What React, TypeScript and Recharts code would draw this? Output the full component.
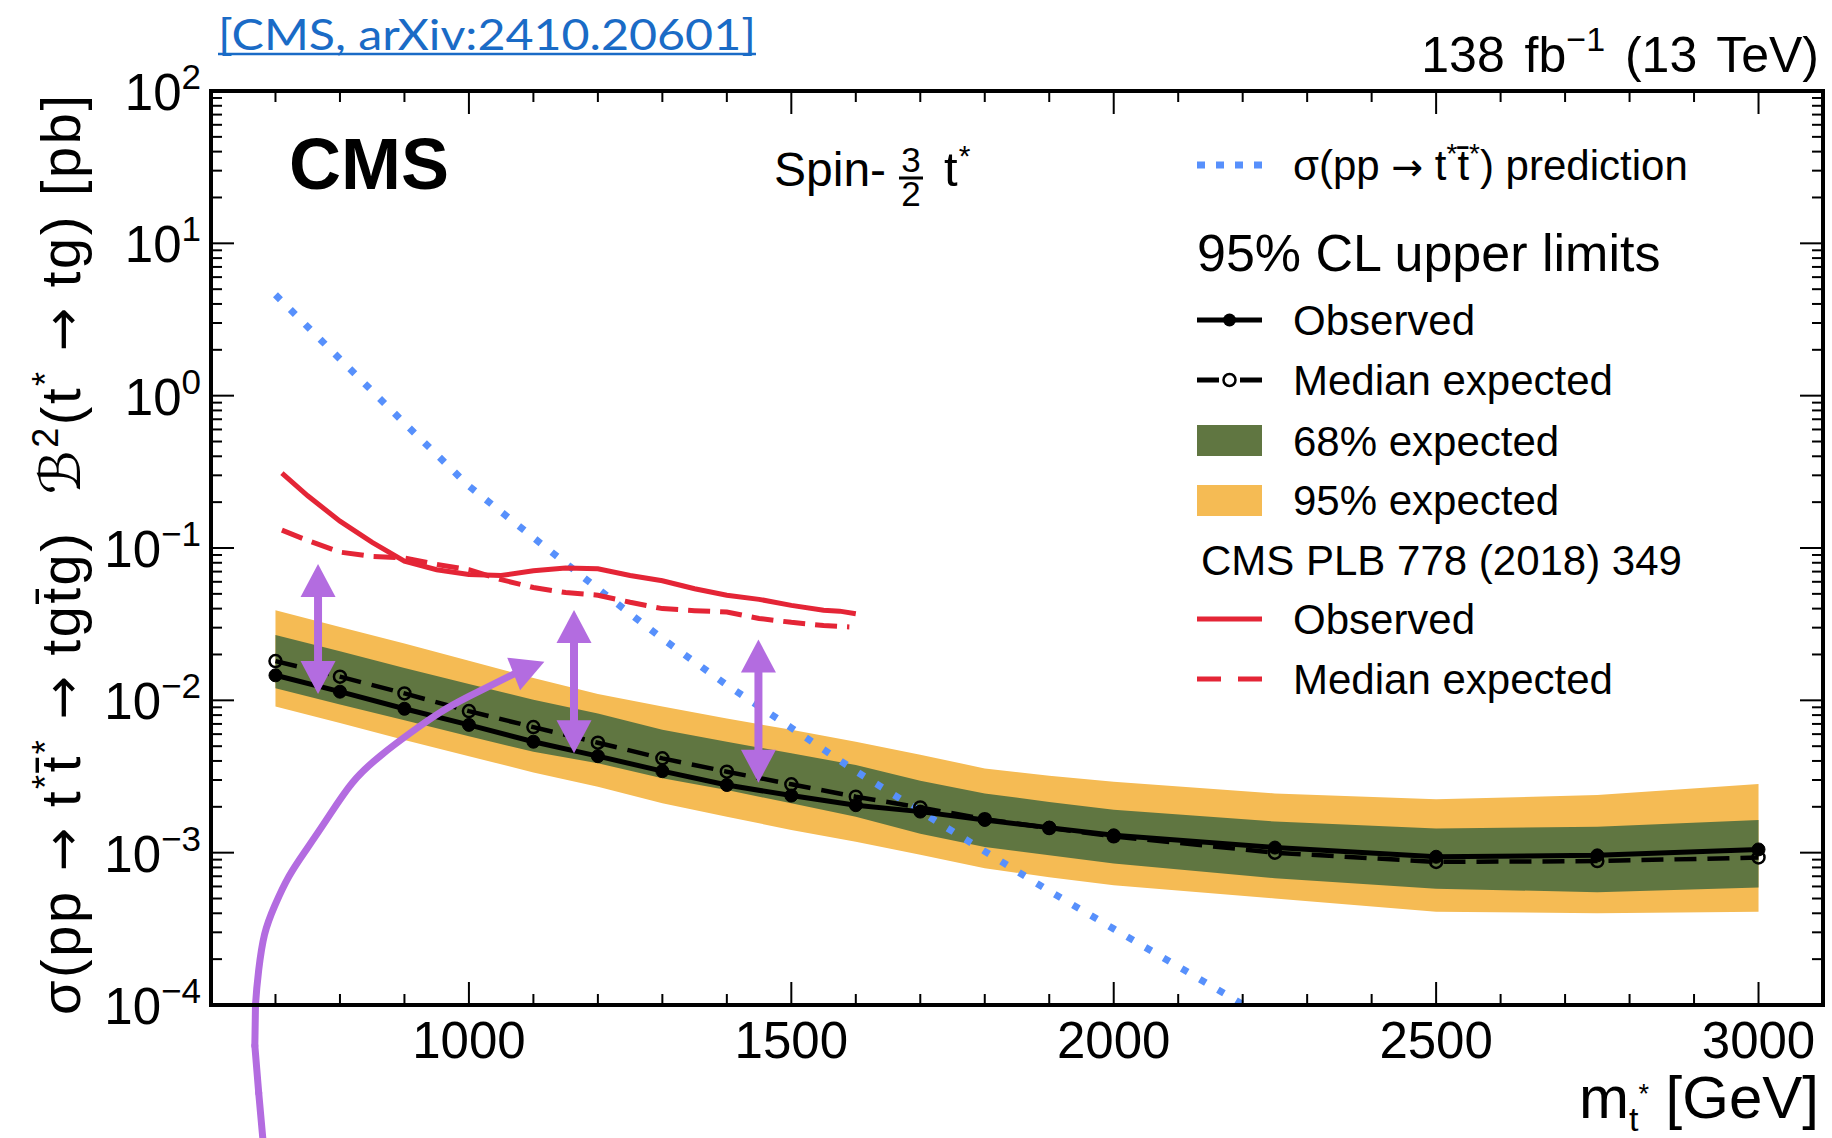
import React from 'react';
import { ComposedChart, Line, Area, XAxis, YAxis, ReferenceLine, Legend } from 'recharts';

// ---------------- data ----------------
const massPoints = [700, 800, 900, 1000, 1100, 1200, 1300, 1400, 1500, 1600, 1700, 1800, 1900, 2000, 2250, 2500, 2750, 3000];
const observedLimit = [0.0146, 0.0114, 0.0088, 0.0069, 0.00535, 0.0043, 0.00343, 0.00278, 0.00237, 0.00205, 0.00186, 0.00164, 0.00146, 0.0013, 0.00108, 0.00094, 0.00096, 0.00105];
const expectedLimit = [0.0181, 0.0143, 0.0111, 0.0085, 0.00667, 0.00527, 0.00416, 0.0034, 0.00281, 0.00233, 0.00198, 0.00166, 0.00145, 0.00128, 0.001, 0.00087, 0.00088, 0.00093];
const band68Low = [0.012, 0.0094, 0.0074, 0.0058, 0.0046, 0.00386, 0.00308, 0.00258, 0.00211, 0.00172, 0.00133, 0.00109, 0.00096, 0.00085, 0.00068, 0.00058, 0.00055, 0.00059];
const band68High = [0.0268, 0.021, 0.0163, 0.0128, 0.0101, 0.0082, 0.0064, 0.00535, 0.00449, 0.00376, 0.00296, 0.00245, 0.00215, 0.00191, 0.0016, 0.00144, 0.00148, 0.00164];
const band95Low = [0.0091, 0.0071, 0.0055, 0.0043, 0.00336, 0.00271, 0.00211, 0.00172, 0.00141, 0.00118, 0.00097, 0.00079, 0.00069, 0.00061, 0.0005, 0.00041, 0.0004, 0.00041];
const band95High = [0.039, 0.0303, 0.0236, 0.0182, 0.014, 0.011, 0.0091, 0.0076, 0.0064, 0.00535, 0.0044, 0.00357, 0.0032, 0.00292, 0.00245, 0.00224, 0.00239, 0.00282];

const predictionMass = [700, 800, 900, 1000, 1100, 1200, 1300, 1400, 1500, 1600, 1700, 1800, 1900, 2000, 2100, 2200];
const predictionXsec = [4.6, 1.74, 0.66, 0.255, 0.117, 0.054, 0.0254, 0.0126, 0.0066, 0.00343, 0.00187, 0.00102, 0.00056, 0.000316, 0.000179, 0.000101];

const prevObservedMass = [710, 750, 800, 850, 900, 950, 1000, 1050, 1100, 1150, 1200, 1250, 1300, 1350, 1400, 1450, 1500, 1550, 1575, 1600];
const prevObservedLimit = [0.31, 0.22, 0.15, 0.109, 0.082, 0.072, 0.067, 0.066, 0.071, 0.074, 0.073, 0.066, 0.061, 0.054, 0.049, 0.046, 0.042, 0.039, 0.0385, 0.037];
const prevExpectedMass = [710, 750, 800, 850, 900, 950, 1000, 1050, 1100, 1150, 1200, 1250, 1300, 1350, 1400, 1450, 1500, 1550, 1590];
const prevExpectedLimit = [0.131, 0.112, 0.094, 0.088, 0.086, 0.078, 0.072, 0.062, 0.055, 0.051, 0.049, 0.044, 0.04, 0.0388, 0.038, 0.0345, 0.0325, 0.031, 0.0303];

// annotation arrows (mass in GeV, cross section in pb)
const arrowMass = [766, 1163, 1449];
const arrowUpper = [0.0785, 0.0392, 0.0251];
const arrowLower = [0.011, 0.00449, 0.00288];
const curveMass = [683, 674, 668, 669, 674, 683, 699, 721, 748, 781, 819, 862, 909, 955, 1000, 1071];
const curveXsec = [1.0e-5, 2.65e-5, 5.4e-5, 1.0e-4, 1.7e-4, 2.9e-4, 4.5e-4, 7.0e-4, 1.05e-3, 1.69e-3, 2.87e-3, 4.3e-3, 6.1e-3, 8.3e-3, 1.06e-2, 1.5e-2];
const curveTipMass = 1117;
const curveTipXsec = 1.79e-2;

// axis ticks
const xTicks = Array.from({ length: 26 }, (_, i) => 600 + 100 * i);
const xTickLabels = [1000, 1500, 2000, 2500, 3000];
const yDecadeExponents = [-4, -3, -2, -1, 0, 1, 2];
const yTicks: number[] = [];
yDecadeExponents.forEach((e) => {
  const mult = e === 2 ? [1] : [1, 2, 3, 4, 5, 6, 7, 8, 9];
  mult.forEach((m) => yTicks.push(Number((m * Math.pow(10, e)).toPrecision(6))));
});
const Y_MIN = 1e-4;
const Y_MAX = 100;
const X_MIN = 600;
const X_MAX = 3100;

// ---------------- tables ----------------
const limitTable = massPoints.map((m, i) => ({
  mass: m,
  observed: observedLimit[i],
  expected: expectedLimit[i],
  band68: [band68Low[i], band68High[i]],
  band95: [band95Low[i], band95High[i]],
}));
const predictionTable = predictionMass.map((m, i) => ({ mass: m, xsec: predictionXsec[i] }));
const prevObservedTable = prevObservedMass.map((m, i) => ({ mass: m, limit: prevObservedLimit[i] }));
const prevExpectedTable = prevExpectedMass.map((m, i) => ({ mass: m, limit: prevExpectedLimit[i] }));
const curveTable = curveMass.map((m, i) => ({ mass: m, value: curveXsec[i] }));
// pieces of the curve that run below the frame (outside the clipped plot area)
const curveOutside = curveMass
  .map((m, i) => i)
  .filter((i) => i < curveMass.length - 1 && curveXsec[i] <= Y_MIN && curveXsec[i + 1] <= Y_MIN);

// ---------------- style ----------------
const W = 1832;
const H = 1138;
const FONT = '"Liberation Sans", Arial, Helvetica, sans-serif';
const ARROWFONT = '"DejaVu Sans", sans-serif';
const BLUE = '#5790fc';
const RED = '#e42536';
const GREEN = '#607641';
const YELLOW = '#f5bb54';
const PURPLE = '#b36ce0';
const LINK = '#1a6bc6';
const frameLine = { stroke: '#000', strokeWidth: 4, strokeLinecap: 'square' as const };

const isDecade = (v: number) => Math.abs(Math.log10(v) - Math.round(Math.log10(v))) < 1e-6;
const expText = (e: number) => (e < 0 ? '\u2212' + -e : String(e));

const LeftTick = (props: any) => {
  const { x, y, payload } = props;
  const v = payload.value;
  const major = isDecade(v);
  return (
    <g>
      <line x1={x} y1={y} x2={x + (major ? 23 : 11)} y2={y} stroke="#000" strokeWidth={2} />
      {major && (
        <text x={x - 10} y={y + 19} textAnchor="end" fontSize={51} fontFamily={FONT} fill="#000">
          10<tspan dy={-21} fontSize={35}>{expText(Math.round(Math.log10(v)))}</tspan>
        </text>
      )}
    </g>
  );
};
const RightTick = (props: any) => {
  const { x, y, payload } = props;
  const major = isDecade(payload.value);
  return <line x1={x} y1={y} x2={x - (major ? 23 : 11)} y2={y} stroke="#000" strokeWidth={2} />;
};
const BottomTick = (props: any) => {
  const { x, y, payload } = props;
  const v = payload.value;
  const major = v % 500 === 0;
  return (
    <g>
      <line x1={x} y1={y} x2={x} y2={y - (major ? 23 : 11)} stroke="#000" strokeWidth={2} />
      {xTickLabels.includes(v) && (
        <text x={x} y={y + 53} textAnchor="middle" fontSize={51} fontFamily={FONT} fill="#000">
          {v}
        </text>
      )}
    </g>
  );
};
const TopTick = (props: any) => {
  const { x, y, payload } = props;
  const major = payload.value % 500 === 0;
  return <line x1={x} y1={y} x2={x} y2={y + (major ? 23 : 11)} stroke="#000" strokeWidth={2} />;
};

const FilledDot = (props: any) => {
  const { cx, cy } = props;
  if (cx == null || cy == null) return null;
  return <circle cx={cx} cy={cy} r={6.5} fill="#000" stroke="#000" strokeWidth={1} />;
};
const OpenDot = (props: any) => {
  const { cx, cy } = props;
  if (cx == null || cy == null) return null;
  return <circle cx={cx} cy={cy} r={6} fill="none" stroke="#000" strokeWidth={2.5} />;
};

const headPoints = (tx: number, ty: number, ux: number, uy: number, len: number, hw: number) => {
  const bx = tx - ux * len;
  const by = ty - uy * len;
  const px = -uy;
  const py = ux;
  return `${tx},${ty} ${bx + px * hw},${by + py * hw} ${bx - px * hw},${by - py * hw}`;
};

const DoubleArrow = (props: any) => {
  const { x1, y1, x2, y2 } = props;
  const dx = x2 - x1;
  const dy = y2 - y1;
  const L = Math.hypot(dx, dy) || 1;
  const ux = dx / L;
  const uy = dy / L;
  const HL = 33;
  const HW = 17.5;
  return (
    <g>
      <line x1={x1 + ux * (HL - 2)} y1={y1 + uy * (HL - 2)} x2={x2 - ux * (HL - 2)} y2={y2 - uy * (HL - 2)} stroke={PURPLE} strokeWidth={8} />
      <polygon points={headPoints(x2, y2, ux, uy, HL, HW)} fill={PURPLE} />
      <polygon points={headPoints(x1, y1, -ux, -uy, HL, HW)} fill={PURPLE} />
    </g>
  );
};
const CurvePiece = (props: any) => {
  const { x1, y1, x2, y2 } = props;
  return <line x1={x1} y1={y1} x2={x2} y2={y2} stroke={PURPLE} strokeWidth={7} strokeLinecap="round" />;
};
const CurveHead = (props: any) => {
  const { x1, y1, x2, y2 } = props;
  const dx = x2 - x1;
  const dy = y2 - y1;
  const L = Math.hypot(dx, dy) || 1;
  return <polygon points={headPoints(x2, y2, dx / L, dy / L, 33, 17.5)} fill={PURPLE} />;
};

const LegendPanel = () => {
  const sx = 17;
  const ex = 82;
  const tx = 113;
  const fs = 42;
  const rowText = (y: number, s: string) => (
    <text x={tx} y={y + 15} fontSize={fs} fontFamily={FONT} fill="#000">
      {s}
    </text>
  );
  return (
    <svg width={640} height={580} style={{ display: 'block', overflow: 'visible' }}>
      <line x1={sx} y1={35} x2={ex} y2={35} stroke={BLUE} strokeWidth={7} strokeDasharray="8 11" />
      <text x={tx} y={50} fontSize={fs} fontFamily={FONT} fill="#000" style={{ whiteSpace: 'pre' }}>
        {'σ(pp '}
        <tspan fontFamily={ARROWFONT} fontSize={38}>→</tspan>
        <tspan fontSize={fs}>{' t'}</tspan>
        <tspan dy={-17} fontSize={28}>*</tspan>
        <tspan dy={17} fontSize={fs}>t̄</tspan>
        <tspan dy={-17} fontSize={28}>*</tspan>
        <tspan dy={17} fontSize={fs}>) prediction</tspan>
      </text>
      <text x={sx} y={141} fontSize={52} fontFamily={FONT} fill="#000">95% CL upper limits</text>
      <line x1={sx} y1={190} x2={ex} y2={190} stroke="#000" strokeWidth={5} />
      <circle cx={(sx + ex) / 2} cy={190} r={6.5} fill="#000" />
      {rowText(190, 'Observed')}
      <line x1={sx} y1={250} x2={ex} y2={250} stroke="#000" strokeWidth={5} strokeDasharray="22 21" />
      <circle cx={(sx + ex) / 2} cy={250} r={6} fill="#fff" stroke="#000" strokeWidth={2.5} />
      {rowText(250, 'Median expected')}
      <rect x={sx} y={295} width={ex - sx} height={31} fill={GREEN} />
      {rowText(310.5, '68% expected')}
      <rect x={sx} y={355} width={ex - sx} height={31} fill={YELLOW} />
      {rowText(370, '95% expected')}
      <text x={21} y={445} fontSize={fs} fontFamily={FONT} fill="#000">CMS PLB 778 (2018) 349</text>
      <line x1={sx} y1={489} x2={ex} y2={489} stroke={RED} strokeWidth={5} />
      {rowText(489, 'Observed')}
      <line x1={sx} y1={549} x2={ex} y2={549} stroke={RED} strokeWidth={5} strokeDasharray="24 17" />
      {rowText(549, 'Median expected')}
    </svg>
  );
};

const Annotations = () => (
  <svg width={W} height={H} style={{ position: 'absolute', left: 0, top: 0, pointerEvents: 'none' }}>
    {/* link */}
    <text x={218} y={50} fontSize={42} fontFamily='Lato, "Liberation Sans", sans-serif' fill={LINK} textLength={538} lengthAdjust="spacingAndGlyphs">
      [CMS, arXiv:2410.20601]
    </text>
    <line x1={218} y1={54} x2={756} y2={54} stroke={LINK} strokeWidth={2.5} />
    {/* lumi */}
    <text x={1819} y={72} textAnchor="end" fontSize={50} fontFamily={FONT} fill="#000" style={{ whiteSpace: 'pre' }} wordSpacing={6}>
      138 fb<tspan dy={-21} fontSize={34}>{'\u22121'}</tspan>
      <tspan dy={21} fontSize={50}>{' (13 TeV)'}</tspan>
    </text>
    {/* CMS */}
    <text x={289} y={189} fontSize={72} fontWeight="bold" fontFamily={FONT} fill="#000">CMS</text>
    {/* Spin-3/2 t* */}
    <text x={774} y={186} fontSize={48} fontFamily={FONT} fill="#000">Spin-</text>
    <text textAnchor="middle" fontSize={35} fontFamily={FONT} fill="#000">
      <tspan x={911} y={172}>3</tspan>
      <tspan x={911} y={206}>2</tspan>
    </text>
    <line x1={899} y1={178} x2={923} y2={178} stroke="#000" strokeWidth={3} />
    <text x={944} y={186} fontSize={49} fontFamily={FONT} fill="#000">
      t<tspan dx={1} dy={-20} fontSize={30}>*</tspan>
    </text>
    {/* x title */}
    <text x={1819} y={1118} textAnchor="end" fontSize={60} fontFamily={FONT} fill="#000" style={{ whiteSpace: 'pre' }}>
      m<tspan dy={13} fontSize={34}>t</tspan>
      <tspan dy={-28} fontSize={27}>*</tspan>
      <tspan dy={15} fontSize={60}>{' [GeV]'}</tspan>
    </text>
    {/* y title */}
    <text transform="translate(80, 555) rotate(-90)" textAnchor="middle" fontSize={56} fontFamily={FONT} fill="#000" style={{ whiteSpace: 'pre' }} textLength={920} lengthAdjust="spacing">
      {'σ(pp '}
      <tspan fontFamily={ARROWFONT} fontSize={52}>→</tspan>
      <tspan fontSize={56}>{' t'}</tspan>
      <tspan dy={-22} fontSize={36}>*</tspan>
      <tspan dy={22} fontSize={56}>t̄</tspan>
      <tspan dy={-22} fontSize={36}>*</tspan>
      <tspan dy={22} fontSize={56}>{' '}</tspan>
      <tspan fontFamily={ARROWFONT} fontSize={52}>→</tspan>
      <tspan fontSize={56}>{' tgt̄g)  '}</tspan>
      <tspan fontStyle="italic" fontFamily='"DejaVu Serif", "DejaVu Sans", serif'>ℬ</tspan>
      <tspan dy={-22} fontSize={36}>2</tspan>
      <tspan dy={22} fontSize={56}>(t</tspan>
      <tspan dy={-22} fontSize={36}>*</tspan>
      <tspan dy={22} fontSize={56}>{' '}</tspan>
      <tspan fontFamily={ARROWFONT} fontSize={52}>→</tspan>
      <tspan fontSize={56}>{' tg) [pb]'}</tspan>
    </text>
  </svg>
);

export default function App() {
  return (
    <div style={{ position: 'absolute', left: 0, top: 0, width: W, height: H, background: '#fff', fontFamily: FONT, overflow: 'hidden' }}>
      <ComposedChart width={W} height={H} data={limitTable} margin={{ top: 90, right: 8, bottom: 132, left: 210 }}>
        <XAxis xAxisId="x" dataKey="mass" type="number" domain={[X_MIN, X_MAX]} allowDataOverflow ticks={xTicks} interval={0} tickSize={0} tickMargin={0} height={1} tick={<BottomTick />} tickLine={false} axisLine={frameLine} />
        <XAxis xAxisId="xt" orientation="top" dataKey="mass" type="number" domain={[X_MIN, X_MAX]} allowDataOverflow ticks={xTicks} interval={0} tickSize={0} tickMargin={0} height={1} tick={<TopTick />} tickLine={false} axisLine={frameLine} />
        <YAxis yAxisId="y" scale="log" type="number" domain={[Y_MIN, Y_MAX]} allowDataOverflow ticks={yTicks} interval={0} tickSize={0} tickMargin={0} width={1} tick={<LeftTick />} tickLine={false} axisLine={frameLine} />
        <YAxis yAxisId="yr" orientation="right" scale="log" type="number" domain={[Y_MIN, Y_MAX]} allowDataOverflow ticks={yTicks} interval={0} tickSize={0} tickMargin={0} width={1} tick={<RightTick />} tickLine={false} axisLine={frameLine} />

        <Area xAxisId="x" yAxisId="y" type="linear" dataKey="band95" stroke="none" fill={YELLOW} fillOpacity={1} isAnimationActive={false} />
        <Area xAxisId="x" yAxisId="y" type="linear" dataKey="band68" stroke="none" fill={GREEN} fillOpacity={1} isAnimationActive={false} />

        <Line xAxisId="x" yAxisId="y" data={predictionTable} dataKey="xsec" type="linear" stroke={BLUE} strokeWidth={7} strokeDasharray="7 14" dot={false} isAnimationActive={false} />
        <Line xAxisId="x" yAxisId="y" data={prevObservedTable} dataKey="limit" type="linear" stroke={RED} strokeWidth={5} dot={false} isAnimationActive={false} />
        <Line xAxisId="x" yAxisId="y" data={prevExpectedTable} dataKey="limit" type="linear" stroke={RED} strokeWidth={5} strokeDasharray="22 10" dot={false} isAnimationActive={false} />

        <Line xAxisId="x" yAxisId="y" dataKey="expected" type="linear" stroke="#000" strokeWidth={4.5} strokeDasharray="22 11" dot={<OpenDot />} isAnimationActive={false} />
        <Line xAxisId="x" yAxisId="y" dataKey="observed" type="linear" stroke="#000" strokeWidth={5} dot={<FilledDot />} isAnimationActive={false} />
        <Line xAxisId="xt" yAxisId="yr" dataKey="observed" stroke="none" dot={false} isAnimationActive={false} legendType="none" />

        {arrowMass.map((m, i) => (
          <ReferenceLine key={'arr' + i} xAxisId="x" yAxisId="y" ifOverflow="visible" segment={[{ x: m, y: arrowUpper[i] }, { x: m, y: arrowLower[i] }]} shape={DoubleArrow} />
        ))}
        <Line xAxisId="x" yAxisId="y" data={curveTable} dataKey="value" type="natural" stroke={PURPLE} strokeWidth={7} strokeLinecap="round" dot={false} isAnimationActive={false} legendType="none" />
        {curveOutside.map((i) => (
          <ReferenceLine
            key={'out' + i}
            xAxisId="x"
            yAxisId="y"
            ifOverflow="visible"
            segment={[{ x: curveMass[i], y: curveXsec[i] }, { x: curveMass[i + 1], y: curveXsec[i + 1] }]}
            shape={CurvePiece}
          />
        ))}
        <ReferenceLine
          xAxisId="x"
          yAxisId="y"
          ifOverflow="visible"
          segment={[{ x: curveMass[curveMass.length - 1], y: curveXsec[curveXsec.length - 1] }, { x: curveTipMass, y: curveTipXsec }]}
          shape={CurveHead}
        />

        <Legend layout="vertical" align="center" verticalAlign="middle" content={() => <LegendPanel />} wrapperStyle={{ position: 'absolute', left: 1180, top: 130, width: 640, height: 580 }} />
      </ComposedChart>
      <Annotations />
    </div>
  );
}
